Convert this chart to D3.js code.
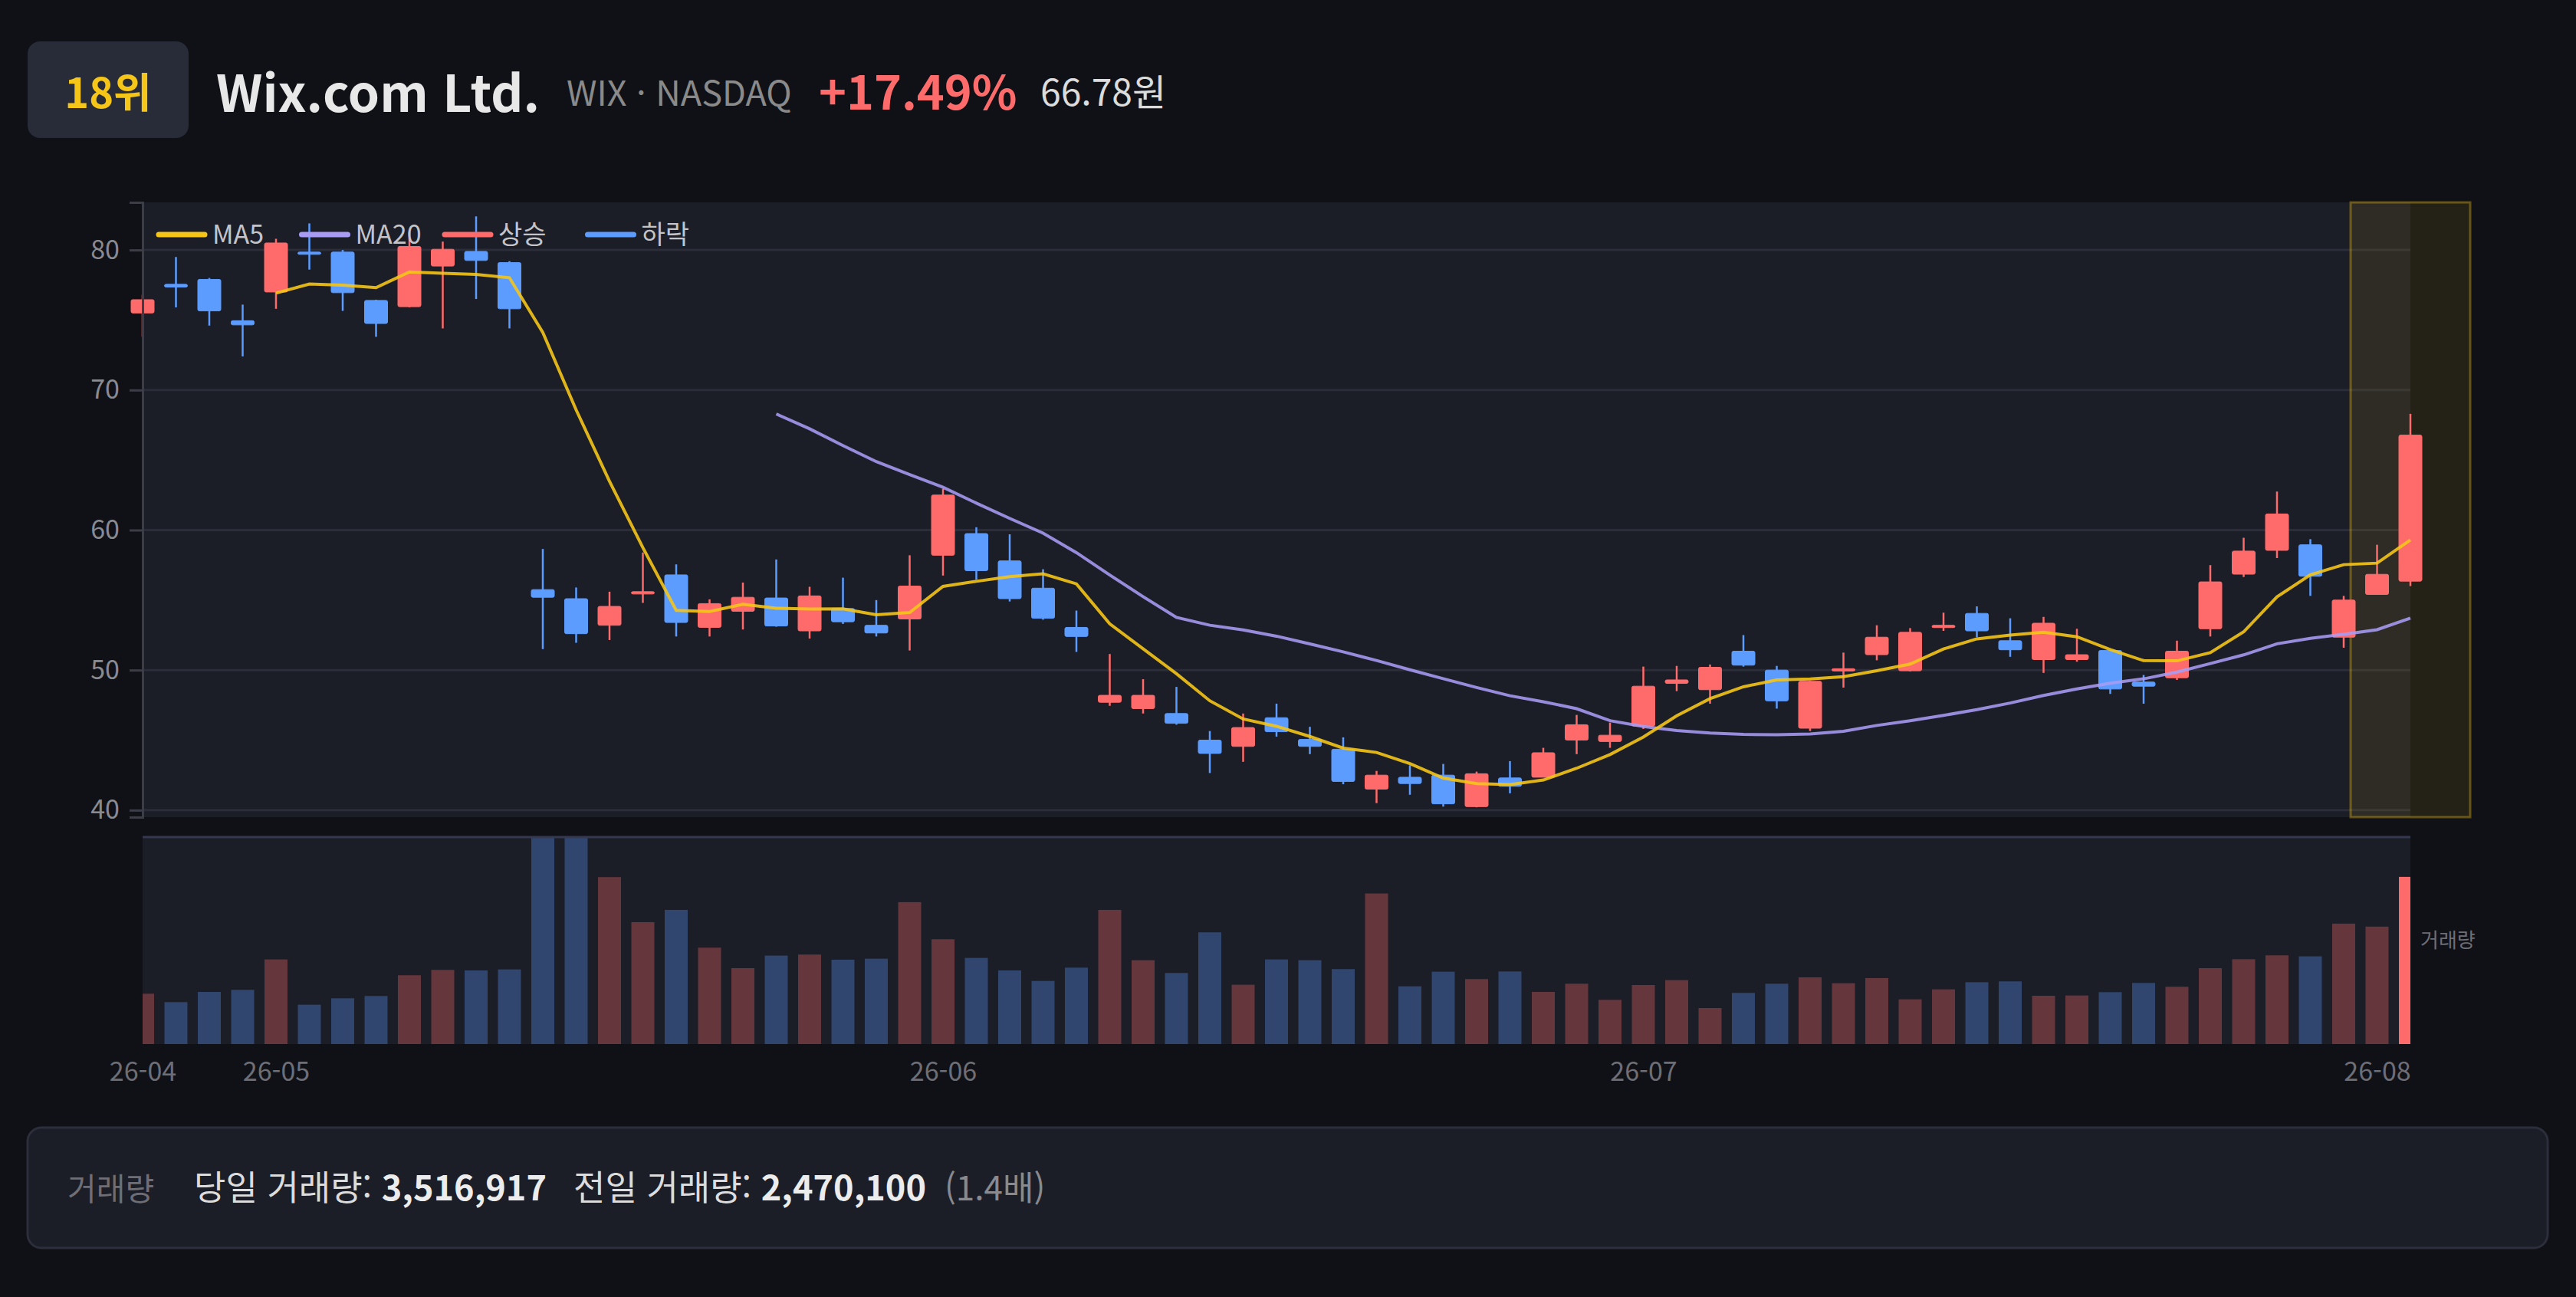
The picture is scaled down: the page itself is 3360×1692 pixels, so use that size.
<!DOCTYPE html>
<html lang="ko">
<head>
<meta charset="UTF-8">
<title>Wix.com Ltd. 캔들 차트</title>
<script src="https://d3js.org/d3.v7.min.js"></script>
<style>
  html, body { margin: 0; padding: 0; background: #101116; }
  svg { display: block; font-family: "Noto Sans CJK KR", "Noto Sans", sans-serif; }
</style>
</head>
<body>
<div id="chart"></div>
<script>
// trading days shown on the chart
const dates = [
  "2026-04-27", "2026-04-28", "2026-04-29", "2026-04-30",
  "2026-05-01", "2026-05-04", "2026-05-05", "2026-05-06", "2026-05-07", "2026-05-08",
  "2026-05-11", "2026-05-12", "2026-05-13", "2026-05-14", "2026-05-15",
  "2026-05-18", "2026-05-19", "2026-05-20", "2026-05-21", "2026-05-22",
  "2026-05-26", "2026-05-27", "2026-05-28", "2026-05-29",
  "2026-06-01", "2026-06-02", "2026-06-03", "2026-06-04", "2026-06-05",
  "2026-06-08", "2026-06-09", "2026-06-10", "2026-06-11", "2026-06-12",
  "2026-06-15", "2026-06-16", "2026-06-17", "2026-06-18",
  "2026-06-22", "2026-06-23", "2026-06-24", "2026-06-25", "2026-06-26",
  "2026-06-29", "2026-06-30",
  "2026-07-01", "2026-07-02",
  "2026-07-06", "2026-07-07", "2026-07-08", "2026-07-09", "2026-07-10",
  "2026-07-13", "2026-07-14", "2026-07-15", "2026-07-16", "2026-07-17",
  "2026-07-20", "2026-07-21", "2026-07-22", "2026-07-23", "2026-07-24",
  "2026-07-27", "2026-07-28", "2026-07-29", "2026-07-30", "2026-07-31",
  "2026-08-03", "2026-08-04"
];

const opens = [
  75.5, 77.55, 77.9, 74.95, 77.0, 79.85, 79.85, 76.4, 75.95, 78.85,
  79.9, 79.1, 55.75, 55.1, 53.2, 55.5, 56.8, 53.05, 54.2, 55.15,
  52.8, 54.4, 53.2, 53.65, 58.2, 59.75, 57.8, 55.85, 53.05, 47.7,
  47.25, 46.9, 45.0, 44.55, 46.6, 45.05, 44.35, 41.5, 42.35, 42.5,
  40.25, 42.3, 42.35, 45.0, 44.9, 46.0, 49.05, 48.6, 51.35, 50.0,
  45.85, 50.0, 51.1, 49.95, 53.05, 54.05, 52.1, 50.75, 50.75, 51.4,
  49.15, 49.45, 52.95, 56.85, 58.55, 58.95, 52.35, 55.4, 56.35
];
const highs = [
  76.8, 79.5, 78.0, 76.1, 80.8, 81.9, 80.0, 76.45, 81.3, 80.6,
  82.4, 79.2, 58.65, 55.9, 55.6, 58.4, 57.55, 55.05, 56.25, 57.9,
  55.95, 56.6, 55.0, 58.2, 62.95, 60.2, 59.7, 57.2, 54.25, 51.15,
  49.35, 48.8, 45.65, 46.9, 47.6, 45.95, 45.2, 42.8, 43.2, 43.3,
  42.75, 43.5, 44.45, 46.8, 46.25, 50.25, 50.3, 50.4, 52.5, 50.3,
  49.25, 51.25, 53.2, 53.0, 54.1, 54.55, 53.7, 53.8, 52.95, 51.45,
  49.65, 52.1, 57.5, 59.45, 62.75, 59.35, 55.3, 58.95, 68.3
];
const lows = [
  73.8, 75.9, 74.6, 72.4, 75.8, 78.6, 75.65, 73.8, 75.9, 74.4,
  76.5, 74.4, 51.5, 51.95, 52.15, 54.8, 52.4, 52.4, 52.9, 53.1,
  52.25, 53.3, 52.4, 51.4, 56.75, 56.45, 54.9, 53.6, 51.3, 47.45,
  46.9, 46.1, 42.65, 43.45, 45.25, 44.0, 41.85, 40.5, 41.1, 40.25,
  40.2, 41.2, 42.35, 44.0, 44.45, 45.8, 48.5, 47.6, 50.25, 47.25,
  45.65, 48.75, 50.7, 49.9, 52.8, 52.35, 50.95, 49.8, 50.6, 48.3,
  47.6, 49.3, 52.4, 56.65, 58.0, 55.3, 51.6, 55.4, 56.0
];
const closes = [
  76.45, 77.35, 75.65, 74.65, 80.5, 79.7, 76.95, 74.75, 80.25, 80.05,
  79.25, 75.8, 55.2, 52.6, 54.55, 55.6, 53.4, 54.75, 55.2, 53.15,
  55.3, 53.45, 52.65, 56.0, 62.5, 57.1, 55.1, 53.7, 52.4, 48.2,
  48.2, 46.2, 44.05, 45.9, 45.6, 44.55, 42.05, 42.5, 41.9, 40.45,
  42.6, 41.7, 44.1, 46.1, 45.35, 48.85, 49.3, 50.2, 50.35, 47.8,
  49.2, 50.1, 52.35, 52.7, 53.2, 52.8, 51.45, 53.35, 51.1, 48.65,
  48.85, 51.35, 56.3, 58.5, 61.15, 56.7, 55.0, 56.84, 66.78
];
const volumes = [
  1059000, 882000, 1097000, 1140000, 1780000, 828000, 963000, 1011000, 1447000, 1560000,
  1549000, 1570000, 6200000, 5400000, 3512000, 2565000, 2823000, 2028000, 1597000, 1861000,
  1882000, 1775000, 1796000, 2985000, 2205000, 1812000, 1549000, 1328000, 1608000, 2823000,
  1764000, 1495000, 2350000, 1248000, 1780000, 1764000, 1576000, 3168000, 1215000, 1522000,
  1366000, 1527000, 1097000, 1269000, 930000, 1242000, 1345000, 758000, 1076000, 1269000,
  1404000, 1280000, 1388000, 941000, 1151000, 1301000, 1318000, 1016000, 1022000, 1092000,
  1285000, 1205000, 1597000, 1785000, 1866000, 1845000, 2533000, 2470100, 3516917
];

const yTicks = [40, 50, 60, 70, 80];
const legendLabels = ["MA5", "MA20", "상승", "하락"];

const W = 3360, H = 1692;
const plot = { left: 186, right: 3144, top: 264, bottom: 1066 };
const volBox = { top: 1091, bottom: 1362 };
const UP = "#ff6b6b", DOWN = "#5c9cff", MA5C = "#f5c518", MA20C = "#a99cf5";

const candles = dates.map((d, i) => ({
  date: d, o: opens[i], h: highs[i], l: lows[i], c: closes[i], v: volumes[i]
}));

function movingAvg(n) {
  const out = [];
  for (let i = n - 1; i < closes.length; i++) {
    out.push({ date: dates[i], value: d3.mean(closes.slice(i - n + 1, i + 1)) });
  }
  return out;
}

const svg = d3.select("#chart").append("svg")
    .attr("width", W)
    .attr("height", H);

svg.append("rect").attr("width", W).attr("height", H).attr("fill", "#101116");

// scales
const x = d3.scalePoint().domain(dates).range([plot.left, plot.right]);
const y = d3.scaleLinear().domain([39.5, 83.4]).range([plot.bottom, plot.top]);
const yVol = d3.scaleLinear().domain([0, 4370000]).range([volBox.bottom, volBox.top]);

// ---- header ----
svg.append("rect")
    .attr("x", 36).attr("y", 54).attr("width", 210).attr("height", 126)
    .attr("rx", 16).attr("fill", "#282b38");
svg.append("text")
    .attr("x", 141).attr("y", 141)
    .attr("text-anchor", "middle")
    .attr("font-size", 54).attr("font-weight", 700)
    .attr("fill", "#f5c518")
    .text("18위");
svg.append("text")
    .attr("x", 282).attr("y", 146)
    .attr("font-size", 66).attr("font-weight", 700)
    .attr("fill", "#e8e8e8")
    .text("Wix.com Ltd.");
svg.append("text")
    .attr("x", 739).attr("y", 138)
    .attr("font-size", 45)
    .attr("fill", "#8a8a8a")
    .text("WIX · NASDAQ");
svg.append("text")
    .attr("x", 1068).attr("y", 143)
    .attr("font-size", 61).attr("font-weight", 700)
    .attr("fill", UP)
    .text("+17.49%");
svg.append("text")
    .attr("x", 1357).attr("y", 138)
    .attr("font-size", 48)
    .attr("fill", "#dcdcdc")
    .text("66.78원");

// ---- price panel ----
svg.append("rect")
    .attr("x", plot.left).attr("y", plot.top)
    .attr("width", plot.right - plot.left).attr("height", plot.bottom - plot.top)
    .attr("fill", "#1b1d27");

svg.append("g")
  .selectAll("line")
  .data(yTicks)
  .join("line")
    .attr("x1", plot.left).attr("x2", plot.right)
    .attr("y1", d => y(d)).attr("y2", d => y(d))
    .attr("stroke", "#2b2d38").attr("stroke-width", 3);

// highlight on the latest day
const lastDate = dates[dates.length - 1];
svg.append("rect")
    .attr("x", x(lastDate) - 78).attr("y", plot.top)
    .attr("width", 156).attr("height", plot.bottom - plot.top)
    .attr("fill", "rgba(245,197,24,0.09)")
    .attr("stroke", "rgba(245,197,24,0.35)")
    .attr("stroke-width", 3);

// candles
const candleG = svg.append("g")
  .selectAll("g")
  .data(candles)
  .join("g")
    .attr("fill", d => d.c >= d.o ? UP : DOWN)
    .attr("stroke", d => d.c >= d.o ? UP : DOWN);

candleG.append("line")
    .attr("x1", d => x(d.date)).attr("x2", d => x(d.date))
    .attr("y1", d => y(d.h)).attr("y2", d => y(d.l))
    .attr("stroke-width", 2.5);

candleG.append("rect")
    .attr("x", d => x(d.date) - 15)
    .attr("width", 30)
    .attr("y", d => y(Math.max(d.o, d.c)))
    .attr("height", d => Math.max(3, Math.abs(y(d.o) - y(d.c))))
    .attr("rx", 2)
    .attr("stroke-width", 1);

// moving averages
const line = d3.line().x(d => x(d.date)).y(d => y(d.value));
svg.append("path")
    .datum(movingAvg(20))
    .attr("fill", "none")
    .attr("stroke", MA20C).attr("stroke-opacity", 0.88)
    .attr("stroke-width", 4)
    .attr("d", line);
svg.append("path")
    .datum(movingAvg(5))
    .attr("fill", "none")
    .attr("stroke", MA5C).attr("stroke-opacity", 0.9)
    .attr("stroke-width", 4)
    .attr("d", line);

// y axis
const yAxis = svg.append("g")
    .attr("transform", `translate(${plot.left},0)`)
    .call(d3.axisLeft(y).tickValues(yTicks).tickSize(17).tickSizeOuter(17).tickPadding(13));
yAxis.select(".domain").attr("stroke", "#3b3d48").attr("stroke-width", 3);
yAxis.selectAll(".tick line").attr("stroke", "#3b3d48").attr("stroke-width", 3);
yAxis.selectAll(".tick text")
    .attr("fill", "#8a8a92")
    .attr("font-size", 34)
    .attr("font-family", "'Noto Sans CJK KR', 'Noto Sans', sans-serif");

// legend
const legendColors = [MA5C, MA20C, UP, DOWN];
const legend = svg.append("g")
  .selectAll("g")
  .data(legendLabels)
  .join("g")
    .attr("transform", (d, i) => `translate(${207 + i * 186.5},306)`);
legend.append("line")
    .attr("x1", 0).attr("x2", 60)
    .attr("stroke", (d, i) => legendColors[i])
    .attr("stroke-width", 7)
    .attr("stroke-linecap", "round");
legend.append("text")
    .attr("x", 70).attr("dy", "0.35em")
    .attr("font-size", 34)
    .attr("fill", "#c4c4c8")
    .text(d => d);

// ---- volume panel ----
svg.append("defs").append("clipPath").attr("id", "volClip")
  .append("rect")
    .attr("x", plot.left).attr("y", volBox.top)
    .attr("width", plot.right - plot.left).attr("height", volBox.bottom - volBox.top);

svg.append("rect")
    .attr("x", plot.left).attr("y", volBox.top)
    .attr("width", plot.right - plot.left).attr("height", volBox.bottom - volBox.top)
    .attr("fill", "#1b1d27");

svg.append("g")
    .attr("clip-path", "url(#volClip)")
  .selectAll("rect")
  .data(candles)
  .join("rect")
    .attr("x", d => x(d.date) - 15)
    .attr("width", 30)
    .attr("y", d => yVol(d.v))
    .attr("height", d => volBox.bottom - yVol(d.v))
    .attr("fill", d => d.c >= d.o ? UP : DOWN)
    .attr("fill-opacity", d => d.date === lastDate ? 1 : 0.33);

svg.append("line")
    .attr("x1", plot.left).attr("x2", plot.right)
    .attr("y1", volBox.top + 1).attr("y2", volBox.top + 1)
    .attr("stroke", "#343850").attr("stroke-width", 3);

svg.append("text")
    .attr("x", 3157).attr("y", (volBox.top + volBox.bottom) / 2)
    .attr("dy", "0.35em")
    .attr("font-size", 26)
    .attr("fill", "#6e6e76")
    .text("거래량");

// x axis (first trading day of each month)
const monthStarts = dates.filter((d, i) => i === 0 || d.slice(5, 7) !== dates[i - 1].slice(5, 7));
const xAxis = svg.append("g")
    .attr("transform", "translate(0,1386)")
    .call(d3.axisBottom(x).tickValues(monthStarts).tickFormat(d => d.slice(2, 7)).tickSize(0).tickPadding(0));
xAxis.select(".domain").remove();
xAxis.selectAll(".tick text")
    .attr("fill", "#6e6e76")
    .attr("font-size", 34)
    .attr("font-family", "'Noto Sans CJK KR', 'Noto Sans', sans-serif");

// ---- bottom summary box ----
const todayVol = volumes[volumes.length - 1];
const prevVol = volumes[volumes.length - 2];
const fmt = d3.format(",");

svg.append("rect")
    .attr("x", 36).attr("y", 1471).attr("width", 3287).attr("height", 157)
    .attr("rx", 18)
    .attr("fill", "#1b1d27").attr("stroke", "#2c2f3b").attr("stroke-width", 3);

svg.append("text")
    .attr("x", 88).attr("y", 1566)
    .attr("font-size", 41).attr("fill", "#6e6e76")
    .text("거래량");

const t1 = svg.append("text").attr("x", 253).attr("y", 1566).attr("font-size", 45).attr("fill", "#dcdcdc");
t1.append("tspan").text("당일 거래량: ");
t1.append("tspan").attr("font-weight", 700).attr("fill", "#ececec").text(fmt(todayVol));

const t2 = svg.append("text").attr("x", 748).attr("y", 1566).attr("font-size", 45).attr("fill", "#dcdcdc");
t2.append("tspan").text("전일 거래량: ");
t2.append("tspan").attr("font-weight", 700).attr("fill", "#ececec").text(fmt(prevVol));

svg.append("text")
    .attr("x", 1232).attr("y", 1566)
    .attr("font-size", 44).attr("fill", "#8a8a8e")
    .text(`(${(todayVol / prevVol).toFixed(1)}배)`);
</script>
</body>
</html>
